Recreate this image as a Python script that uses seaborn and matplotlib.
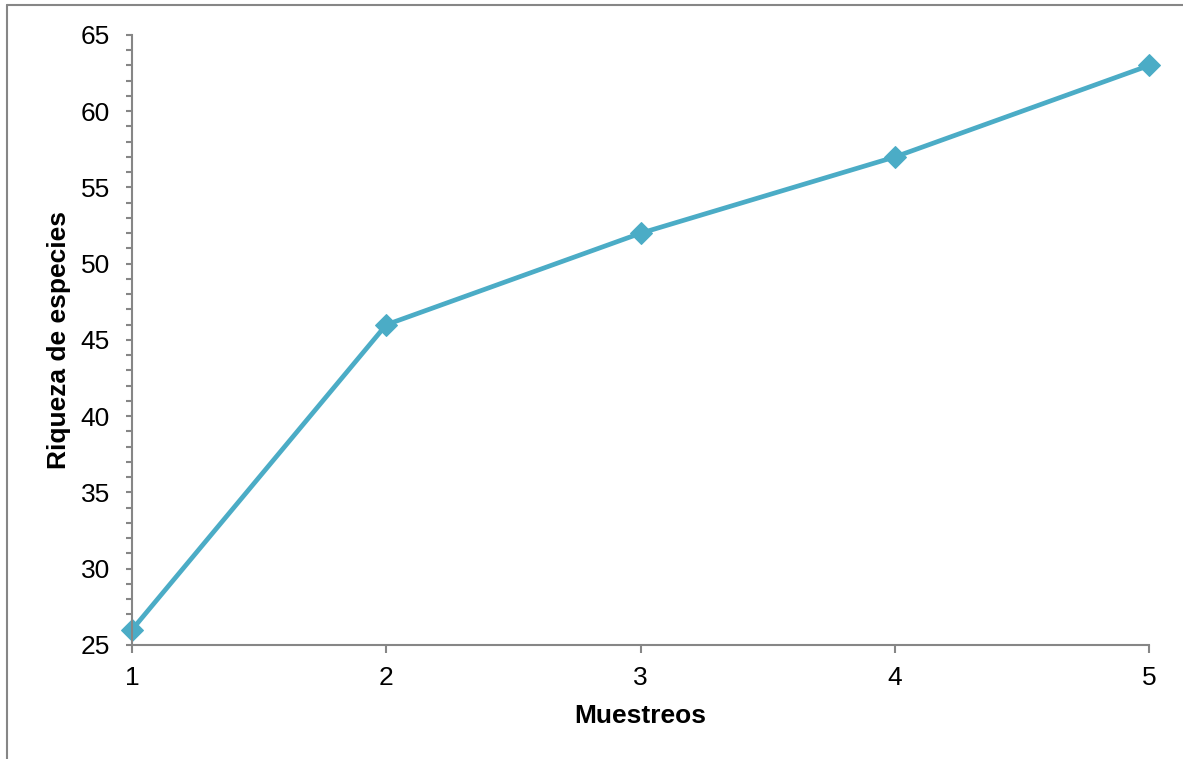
import matplotlib
matplotlib.use("Agg")
import matplotlib.pyplot as plt
import seaborn as sns
import pandas as pd
from matplotlib.ticker import MultipleLocator
from matplotlib.lines import Line2D

# data
muestreos = [1, 2, 3, 4, 5]
riqueza = [26, 46, 52, 57, 63]

df = pd.DataFrame({"Muestreos": muestreos, "Riqueza": riqueza})

sns.set_style("white")
plt.rcParams["font.family"] = ["Liberation Sans", "DejaVu Sans"]
plt.rcParams["text.color"] = "black"
plt.rcParams["axes.labelcolor"] = "black"
plt.rcParams["xtick.labelcolor"] = "black"
plt.rcParams["ytick.labelcolor"] = "black"

fig = plt.figure(figsize=(11.83, 7.59), dpi=100)
ax = fig.add_axes([0.1116, 0.1502, 0.8597, 0.8037])

color = "#4BACC6"
sns.lineplot(data=df, x="Muestreos", y="Riqueza", ax=ax, color=color,
             linewidth=3.4, marker="D", markersize=11.5, markeredgecolor=color,
             clip_on=False)

ax.set_xlim(1, 5)
ax.set_ylim(25, 65)
ax.xaxis.set_major_locator(MultipleLocator(1))
ax.yaxis.set_major_locator(MultipleLocator(5))
ax.yaxis.set_minor_locator(MultipleLocator(1))

grey = "#868686"
for side in ["top", "right"]:
    ax.spines[side].set_visible(False)
for side in ["left", "bottom"]:
    ax.spines[side].set_color(grey)
    ax.spines[side].set_linewidth(1.5)

ax.tick_params(axis="x", which="major", direction="out", length=6, width=1.5,
               color=grey, labelsize=19, pad=9, bottom=True)
ax.tick_params(axis="y", which="both", direction="out", length=4, width=1.5,
               color=grey, labelsize=19, pad=12, left=True)

ax.set_xlabel("Muestreos", fontsize=19, fontweight="bold", labelpad=10)
ax.set_ylabel("Riqueza de especies", fontsize=19, fontweight="bold", labelpad=7)

# outer chart-area border (top and left edges visible in the reference)
fig.add_artist(Line2D([7 / 1183, 1.0], [1 - 5 / 759, 1 - 5 / 759],
                      transform=fig.transFigure, color=grey, linewidth=1.5))
fig.add_artist(Line2D([7 / 1183, 7 / 1183], [0.0, 1 - 5 / 759],
                      transform=fig.transFigure, color=grey, linewidth=1.5))

fig.savefig("out.png", dpi=100)
